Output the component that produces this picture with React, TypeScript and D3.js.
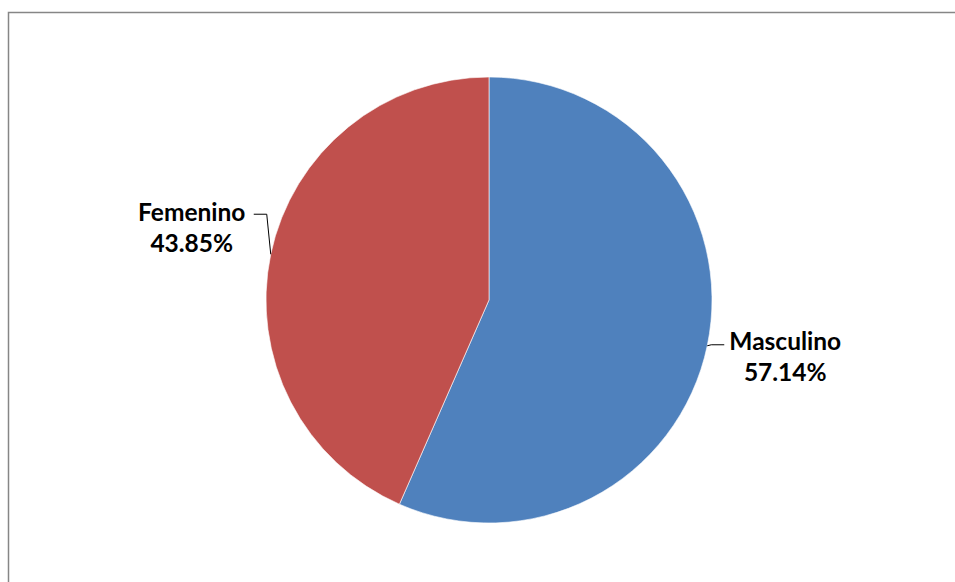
import React from "react";
import * as d3 from "d3";

const categories = ["Masculino", "Femenino"];
const values = [57.14, 43.85];
const valueLabels = ["57.14%", "43.85%"];
const colors = ["#4F81BD", "#C0504D"];

const W = 955;
const H = 582;
const cx = 489;
const cy = 300;
const R = 223;

export default function App() {
  const pie = d3.pie<number>().sort(null).value((d) => d)(values);
  const arc = d3.arc<d3.PieArcDatum<number>>().innerRadius(0).outerRadius(R);
  const fontFamily = "Lato, 'Open Sans', sans-serif";

  return (
    <svg
      width={W}
      height={H}
      style={{ position: "absolute", left: 0, top: 0, background: "#fff" }}
    >
      <rect x={8.5} y={12.5} width={W + 20} height={H + 20} fill="#fff" stroke="#868686" strokeWidth={1.5} />
      <g transform={`translate(${cx},${cy})`}>
        {pie.map((p, i) => (
          <path key={i} d={arc(p) || ""} fill={colors[i]} stroke="#fff" strokeWidth={0.6} />
        ))}
        {pie.map((p, i) => {
          const mid = (p.startAngle + p.endAngle) / 2;
          const ex = R * Math.sin(mid);
          const ey = -R * Math.cos(mid);
          const left = ex < 0;
          const elbowX = left ? ex - 4 : ex + 4;
          const elbowY = left ? ey - 40 : ey - 1;
          const endX = left ? elbowX - 13 : elbowX + 13;
          const tx = left ? ex - 79 : ex + 78;
          const ty = left ? ey - 33 : ey + 4;
          return (
            <g key={"l" + i}>
              <polyline
                points={`${ex},${ey} ${elbowX},${elbowY} ${endX},${elbowY}`}
                fill="none"
                stroke="#000"
                strokeWidth={1}
              />
              <text
                x={tx}
                y={ty}
                textAnchor="middle"
                fontFamily={fontFamily}
                fontWeight={700}
                fontSize={24.5}
                fill="#000"
              >
                <tspan x={tx}>{categories[i]}</tspan>
                <tspan x={tx} dy={31}>{valueLabels[i]}</tspan>
              </text>
            </g>
          );
        })}
      </g>
    </svg>
  );
}
